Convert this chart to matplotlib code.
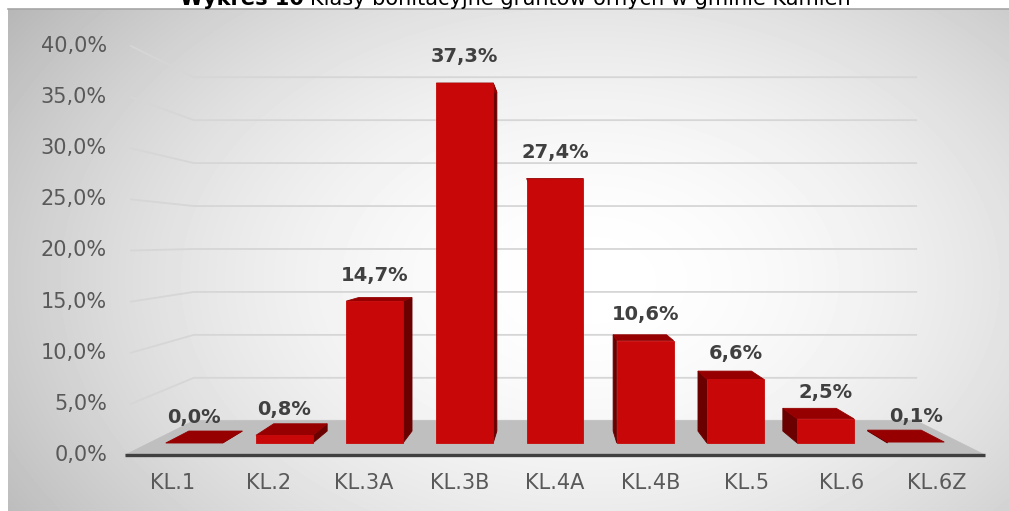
import numpy as np
import matplotlib
matplotlib.use("Agg")
import matplotlib.pyplot as plt
from matplotlib.patches import Polygon

categories = ["KL.1", "KL.2", "KL.3A", "KL.3B", "KL.4A", "KL.4B", "KL.5", "KL.6", "KL.6Z"]
shares = [0.0, 0.8, 14.7, 37.3, 27.4, 10.6, 6.6, 2.5, 0.1]
value_labels = ["0,0%", "0,8%", "14,7%", "37,3%", "27,4%", "10,6%", "6,6%", "2,5%", "0,1%"]
y_ticks = [0, 5, 10, 15, 20, 25, 30, 35, 40]
tick_labels = ["0,0%", "5,0%", "10,0%", "15,0%", "20,0%", "25,0%", "30,0%", "35,0%", "40,0%"]
title_bold = "Wykres 10"
title_rest = "Klasy bonitacyjne gruntów ornych w gminie Kamień"

W, H = 1009, 511
# front plane of the 3d box, in pixels
LEFT, RIGHT = 125, 985
BASE, TOP = 455, 46      # y of 0% and 40% on the front plane
VX, VY = 555, 241        # vanishing centre
SHRINK = 0.16            # scale lost between front (z=0) and back wall (z=1)
Z0, Z1 = 0.35, 0.70      # depth of the bars
BAR_W = 0.63

TXT = "#595959"
LBL = "#404040"


def proj(x, y, z):
    t = 1 - SHRINK * z
    return VX + (x - VX) * t, VY + (y - VY) * t


def ypos(v):
    return BASE - v * (BASE - TOP) / y_ticks[-1]


def xpos(i):
    return LEFT + (i + 0.5) * (RIGHT - LEFT) / len(categories)


def face(ax, pts, color, z):
    ax.add_patch(Polygon([proj(*p) for p in pts], closed=True, facecolor=color,
                         edgecolor=color, lw=0.6, zorder=z))


fig = plt.figure(figsize=(W / 100, H / 100), dpi=100)
ax = fig.add_axes([0, 0, 1, 1])
ax.set_xlim(0, W)
ax.set_ylim(H, 0)
ax.axis("off")

# chart area background (radial grey gradient)
yy, xx = np.mgrid[9:H, 8:W]
r = np.sqrt(((xx - 590) / 600.0) ** 2 + ((yy - 280) / 400.0) ** 2)
shade = 1 - 0.21 * np.clip(r, 0, 1.2) ** 1.8
ax.imshow(shade, cmap="gray", vmin=0, vmax=1, extent=(8, W, H, 9),
          aspect="auto", zorder=0, interpolation="bilinear")
ax.plot([8, W], [9.5, 9.5], color="#A6A6A6", lw=1.2, zorder=1)

# gridlines on side and back wall
for v in y_ticks:
    y = ypos(v)
    p0 = proj(LEFT + 6, y, 0)
    p1 = proj(LEFT, y, 1)
    p2 = proj(RIGHT, y, 1)
    ax.plot([p0[0], p1[0], p2[0]], [p0[1], p1[1], p2[1]], color="#D6D6D6",
            lw=1.3, zorder=2, solid_joinstyle="round")

# floor
face(ax, [(LEFT, BASE, 0), (RIGHT, BASE, 0), (RIGHT, BASE, 1), (LEFT, BASE, 1)], "#BFBFBF", 3)
ax.plot([LEFT, RIGHT], [BASE, BASE], color="#404040", lw=2.4, zorder=4, solid_capstyle="butt")

# bars
half = BAR_W * (RIGHT - LEFT) / len(categories) / 2
for i, v in enumerate(shares):
    xc = xpos(i)
    x0, x1 = xc - half, xc + half
    yb, yt = ypos(0), ypos(v)
    xs = x1 if xc < VX else x0
    if abs(xc - VX) > 5:
        face(ax, [(xs, yb, Z0), (xs, yb, Z1), (xs, yt, Z1), (xs, yt, Z0)], "#6A0000", 5)
    face(ax, [(x0, yt, Z0), (x1, yt, Z0), (x1, yt, Z1), (x0, yt, Z1)], "#960000", 5)
    if v > 0.3:
        face(ax, [(x0, yb, Z0), (x1, yb, Z0), (x1, yt, Z0), (x0, yt, Z0)], "#C80808", 6)
    lx, ly = proj(xc, yt, Z0)
    ax.text(lx, ly - 26, value_labels[i], ha="center", va="center", fontsize=14,
            fontweight="bold", color=LBL, zorder=7)

# axis labels
for v, lab in zip(y_ticks, tick_labels):
    ax.text(107, ypos(v), lab, ha="right", va="center", fontsize=15, color=TXT, zorder=7)
for i, cat in enumerate(categories):
    ax.text(xpos(i), 483, cat, ha="center", va="center", fontsize=15, color=TXT, zorder=7)

# title, cut off at the top edge like the source
t1 = ax.text(180, 5, title_bold, ha="left", va="baseline", fontsize=15,
             fontweight="bold", color="black", zorder=7)
fig.canvas.draw()
bb = t1.get_window_extent(fig.canvas.get_renderer())
ax.text(bb.x1 + 6, 5, title_rest, ha="left", va="baseline", fontsize=15,
        color="black", zorder=7)

fig.savefig("out.png", dpi=100)
